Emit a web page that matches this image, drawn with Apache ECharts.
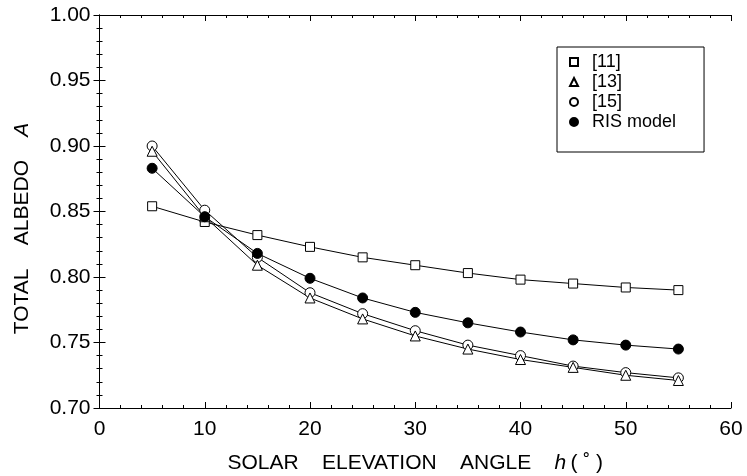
<!DOCTYPE html>
<html>
<head>
<meta charset="utf-8">
<script src="https://cdn.jsdelivr.net/npm/echarts@6/dist/echarts.min.js"></script>
<style>
  html, body { margin: 0; padding: 0; background: #fff; }
  #chart { width: 747px; height: 476px; }
</style>
</head>
<body>
<div id="chart"></div>
<script>
// solar elevation angle h (deg)
const angles = [5, 10, 15, 20, 25, 30, 35, 40, 45, 50, 55];
// total albedo A
const ref11 = [0.854, 0.842, 0.832, 0.823, 0.815, 0.809, 0.803, 0.798, 0.795, 0.792, 0.790];
const ref13 = [0.896, 0.846, 0.809, 0.784, 0.768, 0.755, 0.745, 0.737, 0.731, 0.725, 0.721];
const ref15 = [0.900, 0.851, 0.815, 0.788, 0.772, 0.759, 0.748, 0.740, 0.732, 0.727, 0.723];
const risModel = [0.883, 0.846, 0.818, 0.799, 0.784, 0.773, 0.765, 0.758, 0.752, 0.748, 0.745];

const xTicks = [0, 60, 10];      // min, max, step
const yTicks = [0.70, 1.00, 0.05];

const font = "'Liberation Sans', Arial, sans-serif";

function pairs(vals) {
  return angles.map((h, i) => [h, vals[i]]);
}

function lineSeries(name, vals, symbol, size, filled) {
  return {
    name: name,
    type: "line",
    data: pairs(vals),
    symbol: symbol,
    symbolSize: size,
    showAllSymbol: true,
    lineStyle: { color: "#000", width: 1 },
    itemStyle: {
      color: filled ? "#000" : "#fff",
      borderColor: "#000",
      borderWidth: 1,
      opacity: 1,
    },
    emphasis: { disabled: true },
    animation: false,
  };
}

const chart = echarts.init(document.getElementById("chart"), null, { renderer: "canvas" });

const axisCommon = {
  axisLine: { show: true, lineStyle: { color: "#000", width: 1 } },
  axisTick: { show: true, inside: true, length: 6, lineStyle: { color: "#000" } },
  minorTick: { show: true, splitNumber: 5, length: 3, lineStyle: { color: "#000" } },
  splitLine: { show: false },
};

chart.setOption({
  backgroundColor: "#fff",
  textStyle: { fontFamily: font, color: "#000" },
  grid: { left: 99.5, right: 16, top: 15, bottom: 68, containLabel: false, outerBoundsMode: "none" },
  legend: {
    orient: "vertical",
    left: 557,
    top: 47,
    padding: [6, 28, 21, 12],
    borderColor: "#000",
    borderWidth: 1,
    itemWidth: 8,
    itemHeight: 8,
    itemGap: 2,
    textStyle: { fontFamily: font, fontSize: 18, color: "#000", padding: [0, 0, 0, 9] },
    data: [
      { name: "[11]", icon: "rect" },
      { name: "[13]", icon: "triangle" },
      { name: "[15]", icon: "circle" },
      { name: "RIS model", icon: "circle" },
    ],
  },
  xAxis: [
    Object.assign({}, axisCommon, {
      type: "value",
      min: xTicks[0],
      max: xTicks[1],
      interval: xTicks[2],
      name: "SOLAR    ELEVATION    ANGLE    {i|h}\u2009( \u02DA )",
      nameLocation: "middle",
      nameGap: 45,
      nameTextStyle: {
        fontFamily: font,
        fontSize: 21,
        color: "#000",
        rich: { i: { fontFamily: font, fontSize: 21, fontStyle: "italic", color: "#000" } },
      },
      axisLabel: { fontFamily: font, fontSize: 21, color: "#000", margin: 11 },
    }),
    Object.assign({}, axisCommon, {
      type: "value",
      position: "top",
      min: xTicks[0],
      max: xTicks[1],
      interval: xTicks[2],
      axisLabel: { show: false },
    }),
  ],
  yAxis: [
    Object.assign({}, axisCommon, {
      type: "value",
      min: yTicks[0],
      max: yTicks[1],
      interval: yTicks[2],
      name: "TOTAL    ALBEDO    {i|A}",
      nameLocation: "middle",
      nameGap: 67,
      nameTextStyle: {
        fontFamily: font,
        fontSize: 21,
        color: "#000",
        padding: [0, 34, 0, 0],
        rich: { i: { fontFamily: font, fontSize: 21, fontStyle: "italic", color: "#000" } },
      },
      axisLabel: {
        fontFamily: font,
        fontSize: 21,
        color: "#000",
        margin: 9,
        formatter: (v) => v.toFixed(2),
      },
    }),
    Object.assign({}, axisCommon, {
      type: "value",
      position: "right",
      min: yTicks[0],
      max: yTicks[1],
      interval: yTicks[2],
      axisLabel: { show: false },
    }),
  ],
  series: [
    lineSeries("[11]", ref11, "rect", 9, false),
    lineSeries("[15]", ref15, "circle", 10, false),
    lineSeries("[13]", ref13, "triangle", 10, false),
    lineSeries("RIS model", risModel, "circle", 10, true),
  ],
});
</script>
</body>
</html>
